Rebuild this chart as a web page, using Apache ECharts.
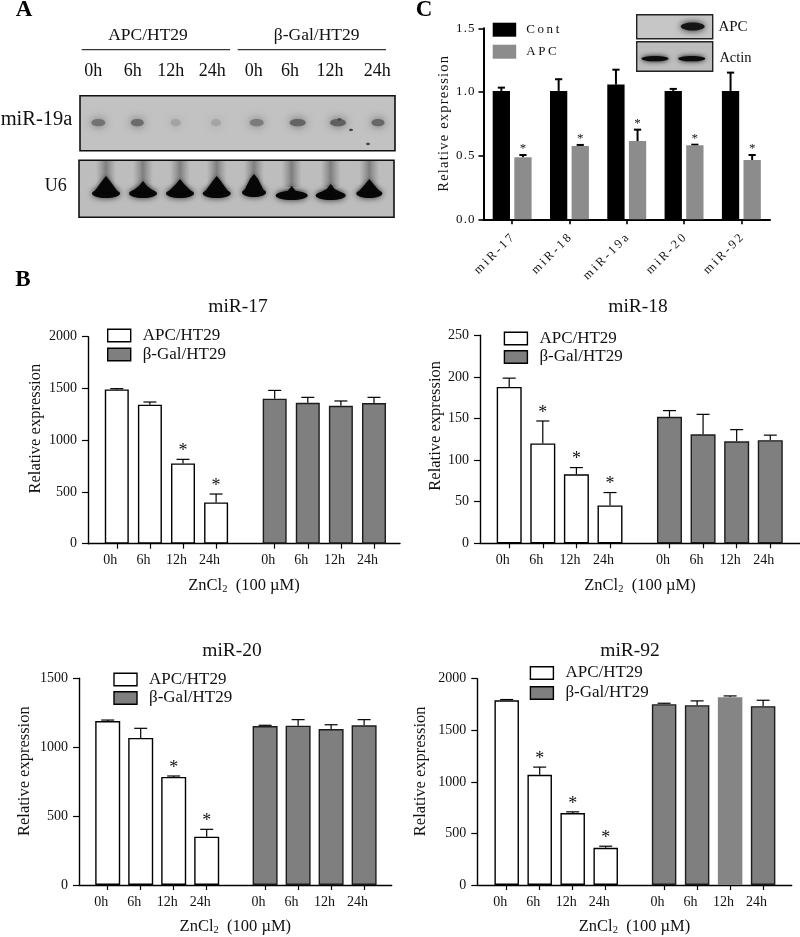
<!DOCTYPE html>
<html><head><meta charset="utf-8">
<style>html,body{margin:0;padding:0;background:#fff}#c{width:800px;height:937px}</style>
<script src="https://cdn.jsdelivr.net/npm/echarts@6/dist/echarts.min.js"></script>
</head><body><div id="c"></div>
<script>
// ---------- data ----------
const timeLabels = ['0h','6h','12h','24h','0h','6h','12h','24h'];
const timeSlots  = [0,1,2,3,4.77,5.77,6.77,7.77];

const mir17Apc = [1491,1343,776,399];
const mir17ApcTop = [1498,1369,815,480];
const mir17Gal = [1401,1362,1333,1359];
const mir17GalTop = [1481,1414,1379,1414];
const mir17Star = [0,0,1,1,0,0,0,0];

const mir18Apc = [188,120,83,45.5];
const mir18ApcTop = [198.5,147,91,61];
const mir18Gal = [152,131,122.6,124];
const mir18GalTop = [159.5,155,136.6,130];
const mir18Star = [0,1,1,1,0,0,0,0];

const mir20Apc = [1190,1067,784,351];
const mir20ApcTop = [1197,1137,791,404];
const mir20Gal = [1154,1156,1132,1159];
const mir20GalTop = [1159,1200,1163,1200];
const mir20Star = [0,0,1,1,0,0,0,0];

const mir92Apc = [1791,1069,697,360];
const mir92ApcTop = [1798,1143,709,376];
const mir92Gal = [1753,1743,1820,1734];
const mir92GalTop = [1762,1785,1833,1791];
const mir92Star = [0,1,1,1,0,0,0,0];

const mirNames = ['miR-17','miR-18','miR-19a','miR-20','miR-92'];
const contValues = [1.008,1.008,1.058,1.008,1.008];
const contTops   = [1.034,1.10,1.175,1.024,1.152];
const apcValues  = [0.487,0.576,0.615,0.581,0.466];
const apcTops    = [0.505,0.584,0.704,0.586,0.505];

// blot lane intensities (0 = none, 1 = darkest)
const mir19aBands = [0.62,0.68,0.2,0.18,0.55,0.75,0.78,0.72];

// ---------- styling / layout ----------
const FONT = '"Liberation Serif","Times New Roman",serif';
const INK = '#111';
const thin = s => [...String(s)].join('\u2009');
const hair = s => [...String(s)].join('\u200a');

const panels = [
 {title:'miR-17',tx:238,ty:307,apc:mir17Apc,apcTop:mir17ApcTop,gal:mir17Gal,galTop:mir17GalTop,star:mir17Star,yMax:2000,yStep:500,
  l:88,r:400,t:336.7,b:543.7,x0:116.8,step:33.1,bw:24,lg:[107,327,2],namePad:23,yGap:44,plain:-1},
 {title:'miR-18',tx:638,ty:307,apc:mir18Apc,apcTop:mir18ApcTop,gal:mir18Gal,galTop:mir18GalTop,star:mir18Star,yMax:250,yStep:50,
  l:480,r:800,t:335.3,b:543.3,x0:509.2,step:33.6,bw:25,lg:[503.7,330,1.5],namePad:27,yGap:36,plain:-1},
 {title:'miR-20',tx:232,ty:651,apc:mir20Apc,apcTop:mir20ApcTop,gal:mir20Gal,galTop:mir20GalTop,star:mir20Star,yMax:1500,yStep:500,
  l:79,r:391.7,t:678.3,b:886.3,x0:107.7,step:33,bw:25,lg:[113.3,671,1.5],namePad:21,yGap:46,plain:-1},
 {title:'miR-92',tx:630,ty:651,apc:mir92Apc,apcTop:mir92ApcTop,gal:mir92Gal,galTop:mir92GalTop,star:mir92Star,yMax:2000,yStep:500,
  l:477.3,r:791.7,t:678.7,b:886.3,x0:506.7,step:33,bw:24.5,lg:[529.7,664.5,3],namePad:21,yGap:48,plain:2}
];

function errorItem(dx, cap, lw, starSize, starGap){
  return function(params, api){
    const base = api.coord([api.value(0), api.value(1)]);
    const top  = api.coord([api.value(0), api.value(2)]);
    const x = base[0] + dx;
    const stroke = {stroke:'#000', lineWidth:lw, fill:null};
    const kids = [
      {type:'line', shape:{x1:x,y1:base[1],x2:x,y2:top[1]}, style:stroke},
      {type:'line', shape:{x1:x-cap,y1:top[1],x2:x+cap,y2:top[1]}, style:stroke}
    ];
    if (api.value(3)) kids.push({type:'text', style:{x:x, y:top[1]-starGap, text:'*', fontSize:starSize, fontFamily:FONT,
      fill:INK, align:'center', verticalAlign:'middle'}});
    return {type:'group', children:kids};
  };
}

const option = {animation:false, backgroundColor:'#fff', textStyle:{fontFamily:FONT,color:INK},
  title:[], grid:[], xAxis:[], yAxis:[], legend:[], series:[], graphic:{elements:[]}};

panels.forEach((p,i)=>{
  option.title.push({text:p.title,left:p.tx,top:p.ty,textAlign:'center',textVerticalAlign:'middle',padding:0,
    textStyle:{fontSize:19.5,fontWeight:'normal',color:INK,fontFamily:FONT}});
  option.grid.push({left:p.l,top:p.t,width:p.r-p.l,height:p.b-p.t,containLabel:false});
  option.xAxis.push({gridIndex:i,type:'value',min:(p.l-p.x0)/p.step,max:(p.r-p.x0)/p.step,splitLine:{show:false},
    axisLine:{show:true,onZero:false,lineStyle:{color:'#000',width:1.4}},
    axisTick:{show:true,length:5,customValues:timeSlots,lineStyle:{color:'#000',width:1.2}},
    axisLabel:{show:true,customValues:timeSlots,hideOverlap:false,showMinLabel:true,showMaxLabel:true,
      formatter:v=>timeLabels[timeSlots.indexOf(v)],fontSize:14,color:INK,margin:10,padding:[0,13,0,0],fontFamily:FONT},
    name:'ZnCl{s|2}  (100 µM)',nameLocation:'middle',nameGap:33,
    nameTextStyle:{fontSize:16.5,color:INK,fontFamily:FONT,rich:{s:{fontSize:10.5,fontFamily:FONT,color:INK,verticalAlign:'bottom',padding:[7,0,0,0]}}}});
  option.yAxis.push({gridIndex:i,type:'value',min:0,max:p.yMax,interval:p.yStep,splitLine:{show:false},
    axisLine:{show:true,onZero:false,lineStyle:{color:'#000',width:1.4}},
    axisTick:{show:true,length:6,lineStyle:{color:'#000',width:1.2}},
    axisLabel:{fontSize:14,color:INK,margin:11,fontFamily:FONT,formatter:v=>String(v)},
    name:'Relative expression',nameLocation:'middle',nameGap:p.yGap,
    nameTextStyle:{fontSize:16.5,color:INK,fontFamily:FONT,padding:[0,0,0,p.namePad]}});
  option.legend.push({left:p.lg[0],top:p.lg[1],orient:'vertical',padding:0,itemWidth:23,itemHeight:12.5,itemGap:p.lg[2],
    icon:'rect',selectedMode:false,data:['APC/HT29','β-Gal/HT29'],
    itemStyle:{borderColor:'#000',borderWidth:1.4},
    textStyle:{fontSize:17,color:INK,fontFamily:FONT,padding:[0,0,0,7]}});

  const apcData = p.apc.map((v,k)=>[timeSlots[k],v]);
  const galData = p.gal.map((v,k)=>{
    const d={value:[timeSlots[k+4],v]};
    if(k===p.plain) d.itemStyle={borderWidth:0,color:'#858585'};
    return d;
  });
  const base={type:'bar',xAxisIndex:i,yAxisIndex:i,barWidth:p.bw,barGap:'-100%',silent:true};
  option.series.push(Object.assign({},base,{name:'APC/HT29',data:apcData,itemStyle:{color:'#fff',borderColor:'#000',borderWidth:1.4}}));
  option.series.push(Object.assign({},base,{name:'β-Gal/HT29',data:galData,itemStyle:{color:'#7f7f7f',borderColor:'#1c1c1c',borderWidth:1.4}}));
  const errs=p.apc.concat(p.gal).map((v,k)=>[timeSlots[k],v,p.apcTop.concat(p.galTop)[k],p.star[k]]);
  option.series.push({type:'custom',xAxisIndex:i,yAxisIndex:i,silent:true,clip:false,z:1,encode:{x:0,y:1},
    renderItem:errorItem(0,6.5,1.2,18,8),data:errs});
});

// ---- panel C ----
const ci = panels.length;
option.grid.push({left:483.5,top:28.3,width:286.5,height:191});
option.xAxis.push({gridIndex:ci,type:'category',data:mirNames,
  axisLine:{show:true,lineStyle:{color:'#000',width:2}},
  axisTick:{show:true,alignWithLabel:true,length:5,lineStyle:{color:'#000',width:1.6}},
  axisLabel:{interval:0,rotate:45,fontSize:12.5,color:INK,margin:17,fontFamily:FONT,formatter:v=>thin(v)}});
option.yAxis.push({gridIndex:ci,type:'value',min:0,max:1.5,interval:0.5,splitLine:{show:false},
  axisLine:{show:true,onZero:false,lineStyle:{color:'#000',width:2}},
  axisTick:{show:true,length:5,lineStyle:{color:'#000',width:1.6}},
  axisLabel:{fontSize:13,color:INK,margin:9,fontFamily:FONT,formatter:v=>hair(v.toFixed(1))},
  name:hair('Relative expression'),nameLocation:'middle',nameGap:31,
  nameTextStyle:{fontSize:14.5,color:INK,fontFamily:FONT}});
option.legend.push({left:492.7,top:22.7,orient:'vertical',padding:0,itemWidth:23.5,itemHeight:14,itemGap:8,
  icon:'rect',selectedMode:false,data:['Cont','APC'],formatter:n=>thin(n),
  textStyle:{fontSize:13,color:INK,fontFamily:FONT,padding:[0,0,0,5]}});
const cBase={type:'bar',xAxisIndex:ci,yAxisIndex:ci,barWidth:17.3,barGap:'25%',silent:true};
option.series.push(Object.assign({},cBase,{name:'Cont',data:contValues,itemStyle:{color:'#000'}}));
option.series.push(Object.assign({},cBase,{name:'APC',data:apcValues,itemStyle:{color:'#8c8c8c'}}));
option.series.push({type:'custom',xAxisIndex:ci,yAxisIndex:ci,silent:true,clip:false,encode:{x:0,y:1},
  renderItem:errorItem(-10.8,3.6,2,0,0),data:contValues.map((v,k)=>[k,v,contTops[k],0])});
option.series.push({type:'custom',xAxisIndex:ci,yAxisIndex:ci,silent:true,clip:false,encode:{x:0,y:1},
  renderItem:errorItem(10.8,3.6,2,13,6),data:apcValues.map((v,k)=>[k,v,apcTops[k],1])});

// ---- blots and free text ----
const G = option.graphic.elements;
const txt=(t,x,y,size,extra)=>G.push({type:'text',x,y,silent:true,style:Object.assign({text:t,fontSize:size,fontFamily:FONT,fill:INK,align:'center',verticalAlign:'middle'},extra||{})});
const ell=(cx,cy,rx,ry,c,blur)=>G.push({type:'ellipse',silent:true,shape:{cx,cy,rx,ry},style:{fill:c,shadowBlur:blur,shadowColor:c}});
const grey=a=>{const g=Math.round(186-a*115);return `rgb(${g},${g},${g})`;};

txt('A',24,10,23,{fontWeight:'bold',fill:'#000'});
txt('C',424,10,23,{fontWeight:'bold',fill:'#000'});
txt('B',23,280,23,{fontWeight:'bold',fill:'#000'});

txt('APC/HT29',148,35,17.5);
txt('β-Gal/HT29',316.7,35,17.5);
G.push({type:'line',silent:true,shape:{x1:81.7,y1:49.7,x2:230,y2:49.7},style:{stroke:'#333',lineWidth:1.2}});
G.push({type:'line',silent:true,shape:{x1:237.7,y1:49.7,x2:386,y2:49.7},style:{stroke:'#333',lineWidth:1.2}});
[93.3,132.7,170.7,212.3,253.7,290,330,377.3].forEach((x,k)=>txt(timeLabels[k],x,71.7,18));
txt('miR-19a',36.5,120,20.5);
txt('U6',55.7,186,18);

// upper northern blot
G.push({type:'rect',silent:true,shape:{x:80,y:95.7,width:315,height:55},style:{fill:'#c2c2c2',stroke:'#111',lineWidth:1.6}});
[98.3,137.3,175.7,216,256.7,297.7,338,378].forEach((x,k)=>ell(x,122.7,[7,6.5,5,5,7,8,8,6.5][k],3.6,grey(mir19aBands[k]),8));
[[339.5,119.5],[351,130],[368,144]].forEach(q=>G.push({type:'ellipse',silent:true,shape:{cx:q[0],cy:q[1],rx:2,ry:1.2},style:{fill:'#444'}}));

// lower U6 blot
G.push({type:'rect',silent:true,shape:{x:79,y:160.3,width:315,height:57},style:{fill:'#bdbdbd',stroke:'#111',lineWidth:1.6}});
const u6Lanes=[106,143,180,216.7,254,291.7,330.7,369.3];
const u6Half=[14,14,14,14,12,16,15,13];
const u6Peak=[176,181,179,176,174,186,184,179];
const u6Base=[198,198,198,198,197,200,200,198];
u6Lanes.forEach((x,k)=>{
  G.push({type:'rect',silent:true,shape:{x:x-10,y:161,width:20,height:26},
    style:{fill:{type:'linear',x:0,y:0,x2:1,y2:0,colorStops:[{offset:0,color:'rgba(120,120,120,0)'},{offset:.5,color:'rgba(105,105,105,.75)'},{offset:1,color:'rgba(120,120,120,0)'}]}}});
  const h=u6Half[k],b=u6Base[k],t=u6Peak[k];
  G.push({type:'ellipse',silent:true,shape:{cx:x,cy:b-4.5,rx:h,ry:4.5},style:{fill:'#070707',shadowBlur:6,shadowColor:'rgba(0,0,0,.75)'}});
  G.push({type:'polygon',silent:true,shape:{points:[[x,t],[x+4,t+5],[x+h-2,b-6],[x-h+2,b-6],[x-4,t+5]]},
    style:{fill:'#070707',shadowBlur:4,shadowColor:'rgba(0,0,0,.6)'}});
});

// inset western blots in panel C
G.push({type:'rect',silent:true,shape:{x:636.7,y:14.7,width:76,height:24},style:{fill:'#c6c6c6',stroke:'#222',lineWidth:1.4}});
ell(692.7,26.5,12,4,'#151515',7);
G.push({type:'rect',silent:true,shape:{x:636.7,y:41.7,width:76,height:29.6},style:{fill:'#bdbdbd',stroke:'#222',lineWidth:1.4}});
ell(655,58.7,13.5,2.6,'#0c0c0c',5);
ell(691.7,58.7,13.5,2.6,'#0c0c0c',5);
txt('APC',733,26.7,15);
txt('Actin',735.5,57.7,14.5);

const chart = echarts.init(document.getElementById('c'),null,{renderer:'canvas',width:800,height:937});
chart.setOption(option);
</script></body></html>
